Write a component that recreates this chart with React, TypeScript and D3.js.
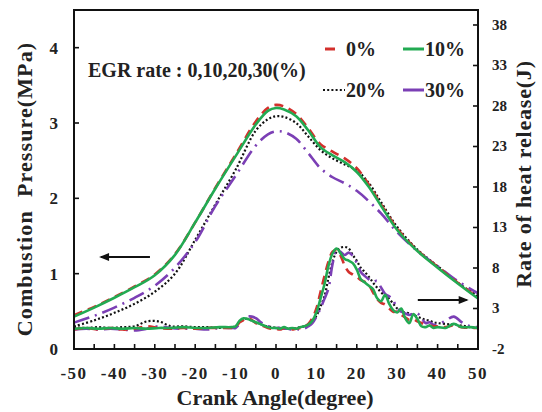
import React, { useEffect, useRef } from "react";
import * as d3 from "d3";

// crank angle (deg) for the pressure curves
const pAngles = [-50, -45, -40, -35, -30, -25, -20, -15, -10, -5, -2, 0, 2, 5, 8, 11, 14, 17, 20, 23, 26, 30, 35, 40, 45, 50];
const press0 = [0.45, 0.56, 0.69, 0.83, 0.99, 1.26, 1.68, 2.14, 2.58, 3.02, 3.2, 3.24, 3.22, 3.12, 2.93, 2.72, 2.62, 2.53, 2.4, 2.18, 1.92, 1.6, 1.31, 1.09, 0.88, 0.68];
const press10 = [0.43, 0.55, 0.68, 0.82, 0.98, 1.25, 1.68, 2.13, 2.56, 2.98, 3.16, 3.2, 3.18, 3.09, 2.9, 2.68, 2.57, 2.48, 2.35, 2.15, 1.9, 1.58, 1.3, 1.08, 0.87, 0.67];
const press20 = [0.3, 0.38, 0.48, 0.6, 0.76, 1.0, 1.45, 1.92, 2.38, 2.9, 3.05, 3.09, 3.08, 3.0, 2.82, 2.64, 2.53, 2.45, 2.37, 2.2, 1.95, 1.62, 1.32, 1.1, 0.88, 0.7];
const press30 = [0.35, 0.44, 0.55, 0.68, 0.84, 1.08, 1.42, 1.9, 2.3, 2.7, 2.85, 2.89, 2.88, 2.79, 2.6, 2.4, 2.28, 2.2, 2.1, 1.96, 1.8, 1.55, 1.3, 1.1, 0.9, 0.74];

// crank angle (deg) for the heat release curves
const hrAngles = [-50, -47, -44, -41, -38, -35, -32, -29, -26, -23, -20, -17, -14, -11,
  -10, -9, -8, -7, -6, -5, -4, -3, -2, -1,
  0, 1, 2, 3, 4, 5, 6, 7, 8, 9,
  10, 11, 12, 13, 14, 15, 16, 17, 18, 19,
  20, 21, 22, 23, 24, 25, 26, 27, 28, 29,
  30, 31, 32, 33, 34, 35, 36, 37, 38, 39, 40,
  42, 44, 46, 48, 50];
const hr0 = [0.4, 0.6, 0.4, 0.6, 0.4, 0.5, 0.8, 0.6, 0.5, 0.6, 0.5, 0.6, 0.6, 0.6,
  0.7, 1.3, 1.6, 1.8, 1.6, 1.2, 1.0, 0.8, 0.6, 0.5,
  0.5, 0.4, 0.6, 0.5, 0.4, 0.5, 0.6, 0.8, 1.1, 1.8,
  3.0, 5.0, 7.0, 8.8, 10.0, 10.2, 9.5, 8.3, 7.5, 7.2,
  6.9, 6.5, 6.3, 5.9, 5.0, 4.2, 3.7, 3.5, 3.0, 2.6,
  2.6, 2.2, 1.9, 1.6, 1.7, 1.4, 1.2, 1.0, 0.9, 0.8, 0.8,
  0.7, 0.9, 0.7, 0.6, 0.6];
const hr10 = [0.5, 0.6, 0.5, 0.6, 0.5, 0.6, 0.5, 0.6, 0.6, 0.7, 0.6, 0.6, 0.7, 0.7,
  0.8, 1.5, 1.8, 1.7, 1.5, 1.3, 1.1, 0.9, 0.7, 0.6,
  0.6, 0.5, 0.7, 0.5, 0.6, 0.5, 0.7, 0.8, 1.0, 1.5,
  2.5, 4.2, 6.0, 8.3, 9.8, 10.4, 9.8, 9.1, 8.9, 8.6,
  7.8, 6.6, 6.2, 5.8, 5.4, 4.3, 3.9, 4.7, 3.6, 2.8,
  2.5, 3.0, 1.8, 1.2, 2.3, 1.7, 0.8, 0.7, 0.9, 0.6, 0.7,
  0.6, 1.1, 0.7, 0.7, 0.6];
const hr20 = [0.7, 0.6, 0.7, 0.6, 0.7, 0.8, 1.4, 1.4, 0.8, 0.8, 0.7, 0.7, 0.6, 0.7,
  0.8, 1.4, 1.7, 1.7, 1.5, 1.3, 1.1, 0.9, 0.8, 0.7,
  0.6, 0.6, 0.5, 0.6, 0.5, 0.6, 0.7, 0.8, 1.0, 1.4,
  2.1, 3.2, 4.5, 6.8, 8.8, 10.0, 10.5, 10.6, 10.4, 9.6,
  8.9, 8.0, 7.5, 6.9, 6.2, 5.6, 5.0, 4.6, 4.2, 3.6,
  3.0, 2.6, 2.5, 2.4, 2.2, 2.0, 1.8, 1.6, 1.5, 1.3, 1.2,
  1.1, 1.0, 0.9, 0.7, 0.6];
const hr30 = [0.4, 0.5, 0.4, 0.5, 0.4, 0.3, 0.5, 0.8, 0.6, 0.5, 0.5, 0.4, 0.6, 0.6,
  0.6, 1.1, 1.7, 2.0, 2.0, 1.8, 1.4, 1.0, 0.8, 0.7,
  0.6, 0.6, 0.5, 0.5, 0.4, 0.5, 0.4, 0.5, 0.8, 1.2,
  2.0, 3.0, 4.2, 5.5, 8.5, 10.2, 10.0, 9.6, 9.9, 9.5,
  8.6, 7.5, 7.0, 6.6, 6.3, 6.4, 5.6, 4.8, 4.5, 4.0,
  3.0, 2.6, 2.4, 2.2, 2.4, 2.4, 1.8, 1.2, 1.3, 1.0, 1.0,
  1.5, 2.0, 1.3, 0.8, 0.7];

const xTickLabels = [-50, -40, -30, -20, -10, 0, 10, 20, 30, 40, 50];
const leftTickLabels = [0, 1, 2, 3, 4];
const rightTickLabels = [-2, 3, 8, 13, 18, 23, 28, 33, 38];

const seriesNames = ["20%", "30%", "0%", "10%"];
const seriesColors = ["#111111", "#7b3fb5", "#d3302c", "#22aa52"];
const seriesDash = ["2,2.2", "16,6,2,6", "9,6", null];
const pressSeries = [press20, press30, press0, press10];
const hrSeries = [hr20, hr30, hr0, hr10];

const FONT = "\"Liberation Serif\", \"DejaVu Serif\", serif";

const App = () => {
  const ref = useRef(null);

  useEffect(() => {
    const g = d3.select(ref.current);
    g.selectAll("*").remove();

    const margin = { top: 10, right: 64, bottom: 63, left: 74 };
    const width = 542, height = 412;
    const x0 = margin.left, x1 = width - margin.right;
    const y0 = height - margin.bottom, y1 = margin.top;

    const xScale = d3.scaleLinear().domain([-50, 50]).range([x0, x1]);
    const yLeft = d3.scaleLinear().domain([0, 4.5]).range([y0, y1]);
    const yRight = d3.scaleLinear().domain([-2, 39.85]).range([y0, y1]);

    const txt = sel => sel
      .attr("font-family", FONT)
      .attr("font-weight", "bold")
      .attr("fill", "#222");

    // ticks (all inward)
    g.selectAll(".xtick")
      .data(d3.range(-45, 50, 5))
      .enter().append("line")
        .attr("x1", d => xScale(d)).attr("x2", d => xScale(d))
        .attr("y1", y0).attr("y2", y0 - 5)
        .attr("stroke", "#111").attr("stroke-width", 1.6);

    g.selectAll(".ltick")
      .data(leftTickLabels.slice(1))
      .enter().append("line")
        .attr("x1", x0).attr("x2", x0 + 5)
        .attr("y1", d => yLeft(d)).attr("y2", d => yLeft(d))
        .attr("stroke", "#111").attr("stroke-width", 1.6);

    g.selectAll(".rtick")
      .data(rightTickLabels.slice(1))
      .enter().append("line")
        .attr("x1", x1).attr("x2", x1 - 5)
        .attr("y1", d => yRight(d)).attr("y2", d => yRight(d))
        .attr("stroke", "#111").attr("stroke-width", 1.6);

    // tick labels
    g.selectAll(".xlab")
      .data(xTickLabels)
      .enter().append("text")
        .attr("x", d => xScale(d))
        .attr("y", 379)
        .attr("text-anchor", "middle")
        .attr("font-size", 17).attr("letter-spacing", 1.5)
        .call(txt)
        .text(d => d);

    g.selectAll(".llab")
      .data(leftTickLabels)
      .enter().append("text")
        .attr("x", 58)
        .attr("y", d => yLeft(d) + 6)
        .attr("text-anchor", "end")
        .attr("font-size", 17)
        .call(txt)
        .text(d => d);

    g.selectAll(".rlab")
      .data(rightTickLabels)
      .enter().append("text")
        .attr("x", 492)
        .attr("y", d => yRight(d) + 5)
        .attr("font-size", 15)
        .call(txt)
        .text(d => d);

    // axis titles
    g.append("text")
      .attr("x", 275).attr("y", 405)
      .attr("text-anchor", "middle")
      .attr("font-size", 22)
      .call(txt)
      .text("Crank Angle(degree)");

    g.append("text")
      .attr("transform", "translate(32,189) rotate(-90)")
      .attr("text-anchor", "middle")
      .attr("font-size", 22).attr("letter-spacing", 1.1)
      .style("white-space", "pre")
      .call(txt)
      .text("Combustion  Pressure(MPa)");

    g.append("text")
      .attr("transform", "translate(531,174) rotate(-90)")
      .attr("text-anchor", "middle")
      .attr("font-size", 22).attr("letter-spacing", 0.8)
      .call(txt)
      .text("Rate of heat release(J)");

    // curves
    const pLine = d3.line()
      .x((d, i) => xScale(pAngles[i]))
      .y(d => yLeft(d))
      .curve(d3.curveCatmullRom);

    const hLine = d3.line()
      .x((d, i) => xScale(hrAngles[i]))
      .y(d => yRight(d))
      .curve(d3.curveCatmullRom);

    const drawSeries = (arr, gen) => {
      arr.forEach((vals, k) => {
        const p = g.append("path")
          .attr("d", gen(vals))
          .attr("fill", "none")
          .attr("stroke", seriesColors[k])
          .attr("stroke-width", k === 0 ? 2.2 : 2.6);
        if (seriesDash[k]) p.attr("stroke-dasharray", seriesDash[k]);
      });
    };
    drawSeries(hrSeries, hLine);
    drawSeries(pressSeries, pLine);

    // frame
    g.append("rect")
      .attr("x", x0).attr("y", y1)
      .attr("width", x1 - x0).attr("height", y0 - y1)
      .attr("fill", "none")
      .attr("stroke", "#111").attr("stroke-width", 2);

    // arrows
    const arrow = (xa, xb, yy) => {
      g.append("line")
        .attr("x1", xa).attr("x2", xb).attr("y1", yy).attr("y2", yy)
        .attr("stroke", "#111").attr("stroke-width", 2);
      const dir = xb > xa ? 1 : -1;
      g.append("path")
        .attr("d", `M${xb + dir * 2},${yy} L${xb - dir * 8},${yy - 4} L${xb - dir * 8},${yy + 4} Z`)
        .attr("fill", "#111");
    };
    arrow(xScale(-31.2), xScale(-43.3), yLeft(1.22));
    arrow(xScale(35.1), xScale(47.2), yRight(4.05));

    // annotation
    g.append("text")
      .attr("x", 88).attr("y", 77)
      .attr("font-size", 20)
      .call(txt)
      .text("EGR rate : 0,10,20,30(%)");

    // legend (two rows, two columns)
    const legendPos = [
      { x: 323, y: 90 }, // 20%
      { x: 403, y: 90 }, // 30%
      { x: 325, y: 49 }, // 0%
      { x: 403, y: 49 }, // 10%
    ];
    const legendLen = [22, 21, 10, 21];
    seriesNames.forEach((name, k) => {
      const pos = legendPos[k];
      const ln = g.append("line")
        .attr("x1", pos.x).attr("x2", pos.x + legendLen[k])
        .attr("y1", pos.y).attr("y2", pos.y)
        .attr("stroke", seriesColors[k])
        .attr("stroke-width", k === 0 ? 2.2 : 3);
      if (k === 0) ln.attr("stroke-dasharray", "2,2.2");
      g.append("text")
        .attr("x", k === 2 ? 346 : pos.x + legendLen[k] + 1)
        .attr("y", pos.y + 7)
        .attr("font-size", 20)
        .call(txt)
        .text(name);
    });
  }, []);

  return (
    <div style={{ position: "absolute", left: 0, top: 0 }}>
      <svg width={542} height={412} style={{ display: "block", background: "#fff" }}>
        <g ref={ref} />
      </svg>
    </div>
  );
};

export default App;
